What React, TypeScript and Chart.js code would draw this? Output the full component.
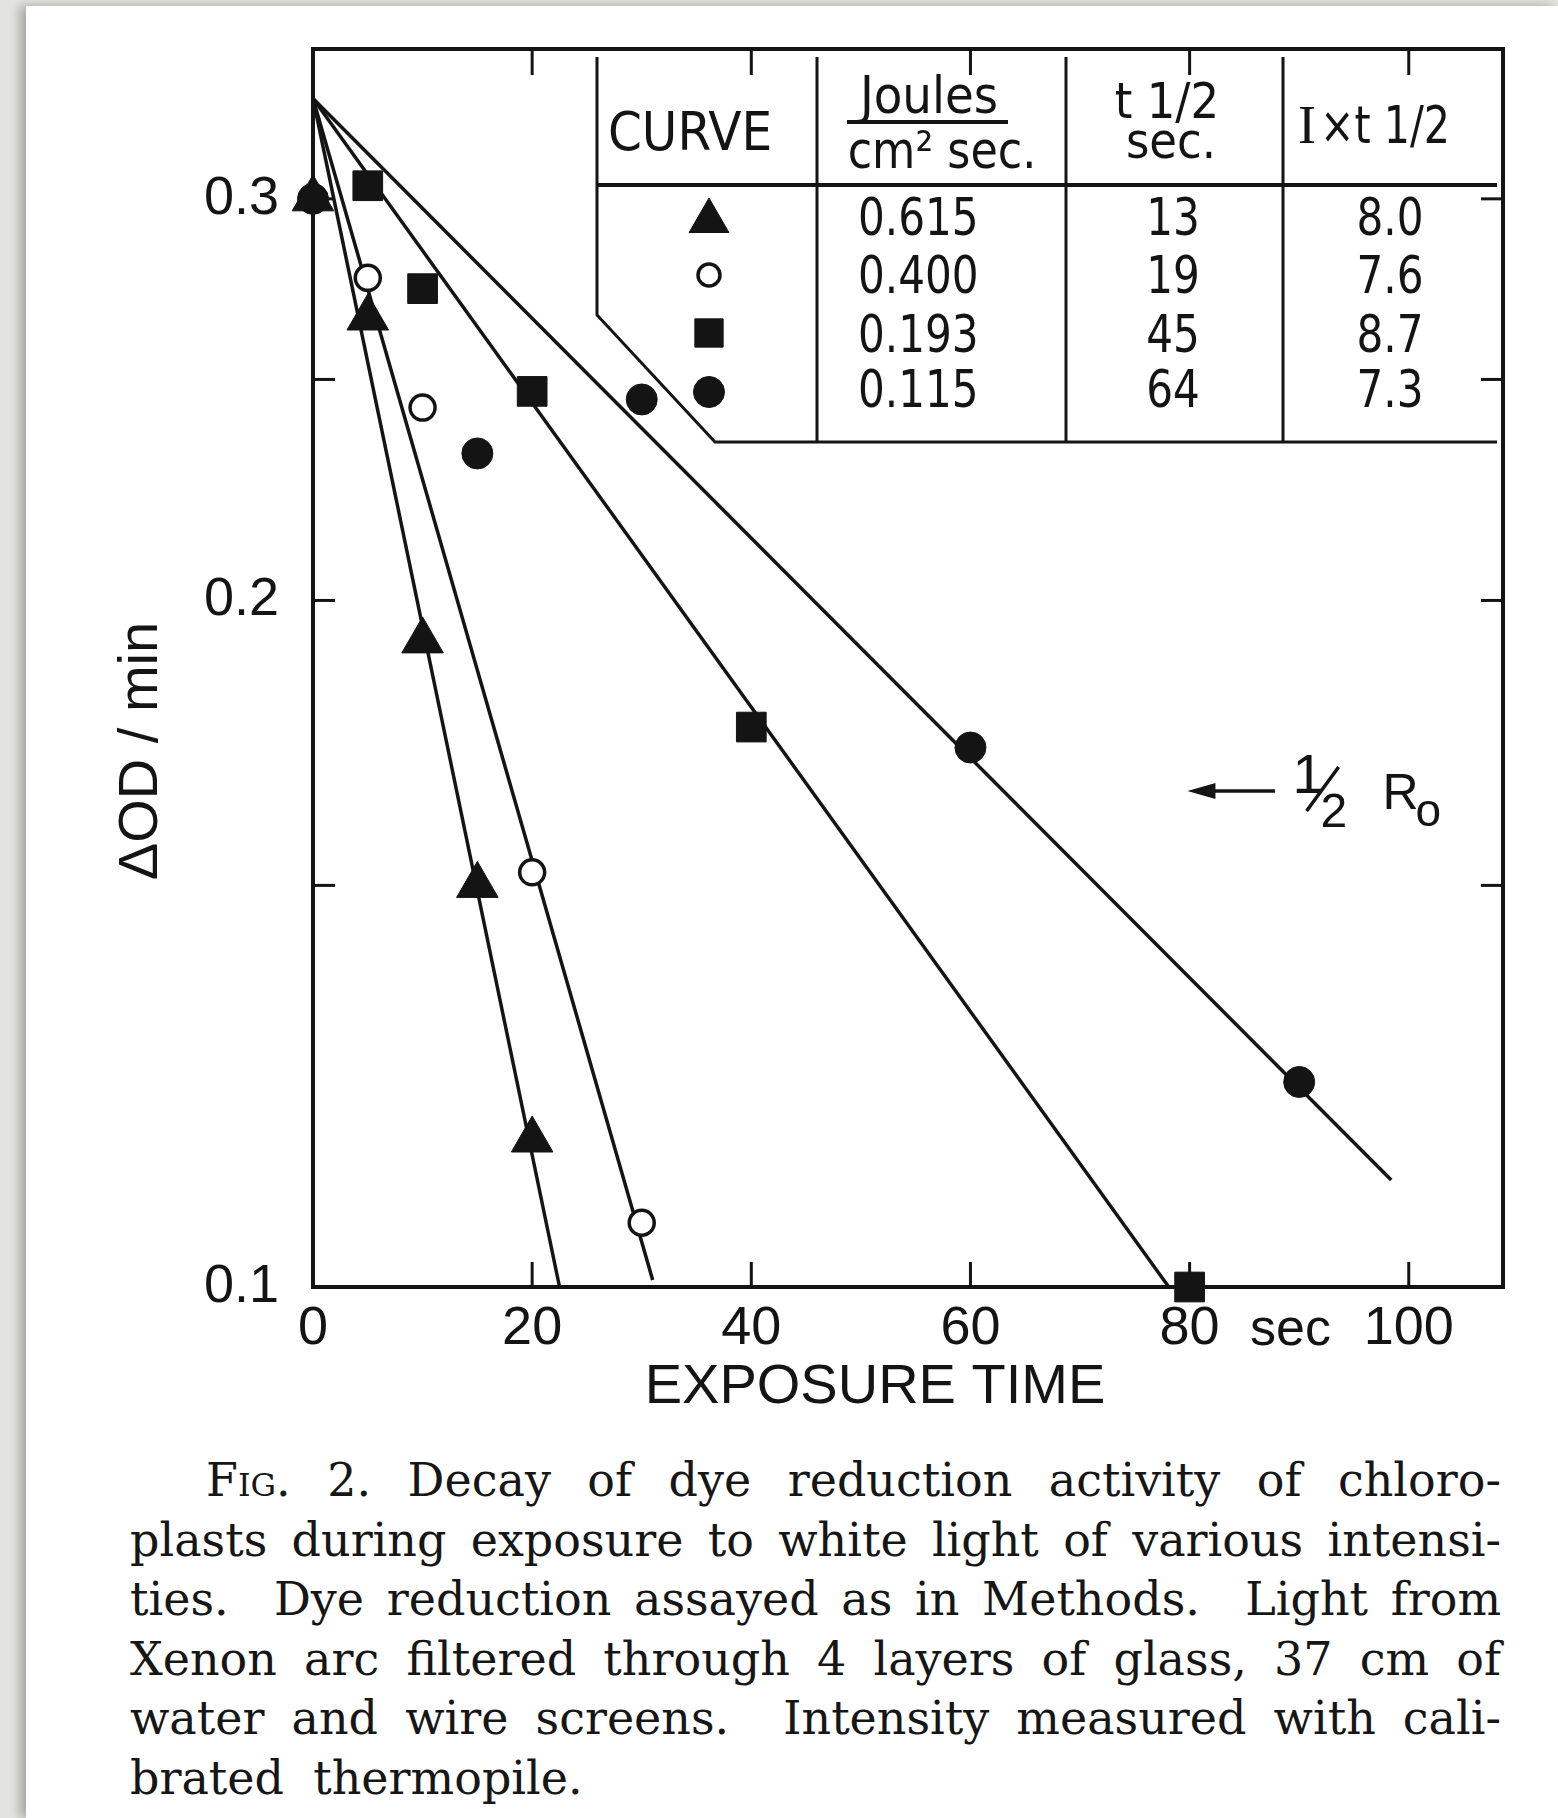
import React, { useEffect, useRef } from 'react';
import { Chart, registerables } from 'chart.js';
import { drawPoint } from 'chart.js/helpers';

Chart.register(...registerables);

// Exposure time (sec) and ΔOD/min readings, one pair of arrays per intensity
const triangleX = [0, 5, 10, 15, 20];
const triangleY = [0.3, 0.266, 0.192, 0.15, 0.116];
const openCircleX = [5, 10, 20, 30];
const openCircleY = [0.277, 0.243, 0.152, 0.1067];
const squareX = [5, 10, 20, 40, 80];
const squareY = [0.304, 0.274, 0.247, 0.176, 0.1];
const dotX = [0, 15, 30, 60, 90];
const dotY = [0.3, 0.232, 0.245, 0.1724, 0.123];

// Fitted decay lines: a shared origin and one end point per curve
const fitOriginX = 0;
const fitOriginY = 0.332;
const fitEndX = [22.5, 31, 78.1, 98.4];
const fitEndY = [0.1, 0.1007, 0.1, 0.1114];

// Inset table
const intensities = ['0.615', '0.400', '0.193', '0.115'];
const halfLives = ['13', '19', '45', '64'];
const products = ['8.0', '7.6', '8.7', '7.3'];

// Axes
const xTicks = [0, 20, 40, 60, 80, 100];
const yTicks = [0.1, 0.15, 0.2, 0.25, 0.3];
const yLabelled = [0.1, 0.2, 0.3];
const halfR0 = 0.165;

const INK = '#141414';
const SANS = "'Liberation Sans', Arial, sans-serif";
const NARROW = "'Liberation Sans Narrow', 'DejaVu Sans Condensed', 'Liberation Sans', sans-serif";
const SERIF_LETTER = "'Liberation Serif', serif";
const CAPTION_FONT = "'DejaVu Serif', 'Liberation Serif', serif";

const markerStyles = [
  { pointStyle: 'triangle', radius: 24, fill: INK, border: 1 },
  { pointStyle: 'circle', radius: 12.5, fill: '#ffffff', border: 3.5 },
  { pointStyle: 'rect', radius: 21, fill: INK, border: 1 },
  { pointStyle: 'circle', radius: 15.5, fill: INK, border: 1 },
];

const zip = (xs: number[], ys: number[]) => xs.map((x, i) => ({ x, y: ys[i] }));
const seriesPoints = [
  zip(triangleX, triangleY),
  zip(openCircleX, openCircleY),
  zip(squareX, squareY),
  zip(dotX, dotY),
];

function txt(
  ctx: CanvasRenderingContext2D,
  s: string,
  x: number,
  y: number,
  size: number,
  family: string,
  align: CanvasTextAlign = 'center',
  sx = 1,
) {
  ctx.save();
  ctx.translate(x, y);
  ctx.scale(sx, 1);
  ctx.font = `${size}px ${family}`;
  ctx.textAlign = align;
  ctx.textBaseline = 'alphabetic';
  ctx.fillText(s, 0, 0);
  ctx.restore();
}

function seg(ctx: CanvasRenderingContext2D, x1: number, y1: number, x2: number, y2: number) {
  ctx.beginPath();
  ctx.moveTo(x1, y1);
  ctx.lineTo(x2, y2);
  ctx.stroke();
}

const figureDecor = {
  id: 'figureDecor',
  afterDraw(chart: any) {
    const { ctx, chartArea: a, scales } = chart;
    const xs = scales.x;
    const ys = scales.y;
    ctx.save();
    ctx.strokeStyle = INK;
    ctx.fillStyle = INK;
    ctx.lineCap = 'butt';

    // frame
    ctx.lineWidth = 4;
    ctx.strokeRect(a.left, a.top, a.right - a.left, a.bottom - a.top);

    // inward ticks on all four sides
    ctx.lineWidth = 3;
    xTicks.filter((v) => v > 0).forEach((v) => {
      const px = xs.getPixelForValue(v);
      seg(ctx, px, a.bottom, px, a.bottom - 25);
      seg(ctx, px, a.top, px, a.top + 26);
    });
    yTicks.filter((v) => v > 0.1).forEach((v) => {
      const py = ys.getPixelForValue(v);
      seg(ctx, a.left, py, a.left + 22, py);
      seg(ctx, a.right, py, a.right - 22, py);
    });

    // inset table
    const L = a.left;
    const T = a.top;
    const colX = [284, 504, 753, 970].map((d) => L + d);
    const vTop = T + 8;
    const headY = T + 136;
    const baseY = T + 393;
    const chamferY = T + 266;
    const chamferX = L + 402;
    const rightX = a.right - 6;
    ctx.lineWidth = 3;
    ctx.beginPath();
    ctx.moveTo(colX[0], vTop);
    ctx.lineTo(colX[0], chamferY);
    ctx.lineTo(chamferX, baseY);
    ctx.lineTo(rightX, baseY);
    ctx.stroke();
    for (let i = 1; i < colX.length; i++) seg(ctx, colX[i], vTop, colX[i], baseY);
    ctx.lineWidth = 4;
    seg(ctx, colX[0], headY, rightX, headY);

    // header
    txt(ctx, 'CURVE', L + 377, T + 101, 54, NARROW);
    txt(ctx, 'Joules', L + 616, T + 64, 52, NARROW);
    ctx.lineWidth = 4;
    seg(ctx, L + 534, T + 73, L + 695, T + 73);
    txt(ctx, 'cm² sec.', L + 629, T + 119, 52, NARROW, 'center', 0.95);
    txt(ctx, 't 1/2', L + 854, T + 69, 50, NARROW);
    txt(ctx, 'sec.', L + 858, T + 109, 50, NARROW);
    txt(ctx, 'I', L + 985, T + 94, 54, SERIF_LETTER, 'left');
    txt(ctx, '×t 1/2', L + 1007, T + 94, 52, NARROW, 'left', 0.88);

    // rows
    const rowBase = [186, 244, 303, 358].map((d) => T + d);
    const markerY = [172, 226, 284, 343].map((d) => T + d);
    const legendRadius = [23, 11, 20, 15.5];
    rowBase.forEach((by, i) => {
      txt(ctx, intensities[i], L + 545, by, 52, NARROW, 'left', 0.9);
      txt(ctx, halfLives[i], L + 860, by, 52, NARROW, 'center', 0.9);
      txt(ctx, products[i], L + 1077, by, 52, NARROW, 'center', 0.9);
      const st = markerStyles[i];
      ctx.fillStyle = st.fill;
      ctx.strokeStyle = INK;
      ctx.lineWidth = st.border;
      drawPoint(ctx, { pointStyle: st.pointStyle, rotation: 0, radius: legendRadius[i], borderWidth: st.border }, L + 396, markerY[i]);
      ctx.fillStyle = INK;
    });

    // half of initial rate marker
    const ay = ys.getPixelForValue(halfR0);
    const tipX = xs.getPixelForValue(79.8);
    const tailX = xs.getPixelForValue(87.8);
    ctx.lineWidth = 3.5;
    seg(ctx, tipX + 20, ay, tailX, ay);
    ctx.beginPath();
    ctx.moveTo(tipX, ay);
    ctx.lineTo(tipX + 28, ay - 8);
    ctx.lineTo(tipX + 28, ay + 8);
    ctx.closePath();
    ctx.fill();
    const fx = xs.getPixelForValue(89.4);
    txt(ctx, '1', fx, ay + 2, 56, SANS, 'left');
    ctx.lineWidth = 3.5;
    seg(ctx, fx + 14, ay + 20, fx + 46, ay - 24);
    txt(ctx, '2', fx + 28, ay + 36, 48, SANS, 'left');
    txt(ctx, 'R', fx + 90, ay + 18, 50, SANS, 'left');
    txt(ctx, 'o', fx + 123, ay + 35, 46, SANS, 'left');

    // unit next to the x tick labels
    txt(ctx, 'sec', xs.getPixelForValue(89.2), a.bottom + 58, 52, SANS);

    // axis titles
    txt(ctx, 'EXPOSURE TIME', L + 562, a.bottom + 116, 56, SANS);
    ctx.save();
    ctx.translate(L - 176, T + 702);
    ctx.rotate(-Math.PI / 2);
    txt(ctx, 'ΔOD / min', 0, 20, 56, SANS);
    ctx.restore();

    ctx.restore();
  },
};

export default function App() {
  const ref = useRef<HTMLCanvasElement>(null);

  useEffect(() => {
    const markerSets = seriesPoints.map((pts, i) => {
      const st = markerStyles[i];
      return {
        type: 'scatter' as const,
        data: pts,
        pointStyle: st.pointStyle,
        pointRadius: st.radius,
        pointBackgroundColor: st.fill,
        pointBorderColor: INK,
        pointBorderWidth: st.border,
        showLine: false,
        clip: false,
        order: 0,
      };
    });
    const fitSets = fitEndX.map((ex, i) => ({
      type: 'scatter' as const,
      data: [
        { x: fitOriginX, y: fitOriginY },
        { x: ex, y: fitEndY[i] },
      ],
      showLine: true,
      borderColor: INK,
      borderWidth: 3.5,
      pointRadius: 0,
      tension: 0,
      clip: false,
      order: 1,
    }));

    const chart = new Chart(ref.current as HTMLCanvasElement, {
      type: 'scatter',
      data: { datasets: [...markerSets, ...fitSets] as any },
      options: {
        animation: false,
        responsive: false,
        devicePixelRatio: 1,
        layout: { padding: { left: 0, top: 49, right: 55, bottom: 0 } },
        plugins: { legend: { display: false }, tooltip: { enabled: false } },
        events: [],
        scales: {
          x: {
            type: 'linear',
            min: 0,
            max: 108.6,
            afterBuildTicks: (s: any) => {
              s.ticks = xTicks.map((v) => ({ value: v }));
            },
            afterFit: (s: any) => {
              s.height = 153;
              s.paddingLeft = 0;
              s.paddingRight = 0;
            },
            grid: { display: false, drawTicks: false },
            border: { display: false },
            ticks: {
              autoSkip: false,
              maxRotation: 0,
              padding: 10,
              color: INK,
              font: { family: SANS, size: 54 },
              callback: (v: any) => String(v),
            },
          },
          y: {
            type: 'logarithmic',
            min: 0.1,
            max: 0.349,
            afterBuildTicks: (s: any) => {
              s.ticks = yTicks.map((v) => ({ value: v }));
            },
            afterFit: (s: any) => {
              s.width = 313;
              s.paddingTop = 0;
              s.paddingBottom = 0;
            },
            grid: { display: false, drawTicks: false },
            border: { display: false },
            ticks: {
              autoSkip: false,
              padding: 34,
              color: INK,
              font: { family: SANS, size: 54 },
              callback: (v: any) => (yLabelled.includes(Number(v)) ? Number(v).toFixed(1) : ''),
            },
          },
        },
      },
      plugins: [figureDecor],
    } as any);
    return () => chart.destroy();
  }, []);

  const captionLines = [
    'Decay of dye reduction activity of chloro-',
    'plasts during exposure to white light of various intensi-',
    'ties.\u00a0 Dye reduction assayed as in Methods.\u00a0 Light from',
    'Xenon arc filtered through 4 layers of glass, 37 cm of',
    'water and wire screens.\u00a0 Intensity measured with cali-',
    'brated\u00a0 thermopile.',
  ];
  const lineStyle = (i: number): React.CSSProperties => ({
    height: 59.5,
    lineHeight: '59.5px',
    textAlign: 'justify',
    textAlignLast: i === captionLines.length - 1 ? 'left' : 'justify',
    marginLeft: i === 0 ? 76 : 0,
    whiteSpace: 'nowrap',
  });

  return (
    <div style={{ position: 'absolute', left: 0, top: 0, width: 1558, height: 1818, background: '#e3e3e0', overflow: 'hidden' }}>
      <div style={{ position: 'absolute', left: 26, top: 6, right: 0, bottom: 0, background: '#ffffff', boxShadow: '-6px 0 10px rgba(0,0,0,0.28)' }} />
      <canvas ref={ref} width={1558} height={1440} style={{ position: 'absolute', left: 0, top: 0, width: 1558, height: 1440 }} />
      <div style={{ position: 'absolute', left: 130, top: 1451, width: 1371, fontFamily: CAPTION_FONT, fontSize: 46, color: '#161616' }}>
        {captionLines.map((line, i) => (
          <div key={i} style={lineStyle(i)}>
            {i === 0 ? (
              <>
                <span style={{ fontVariant: 'small-caps' }}>Fig.</span> 2. {line}
              </>
            ) : (
              line
            )}
          </div>
        ))}
      </div>
    </div>
  );
}
